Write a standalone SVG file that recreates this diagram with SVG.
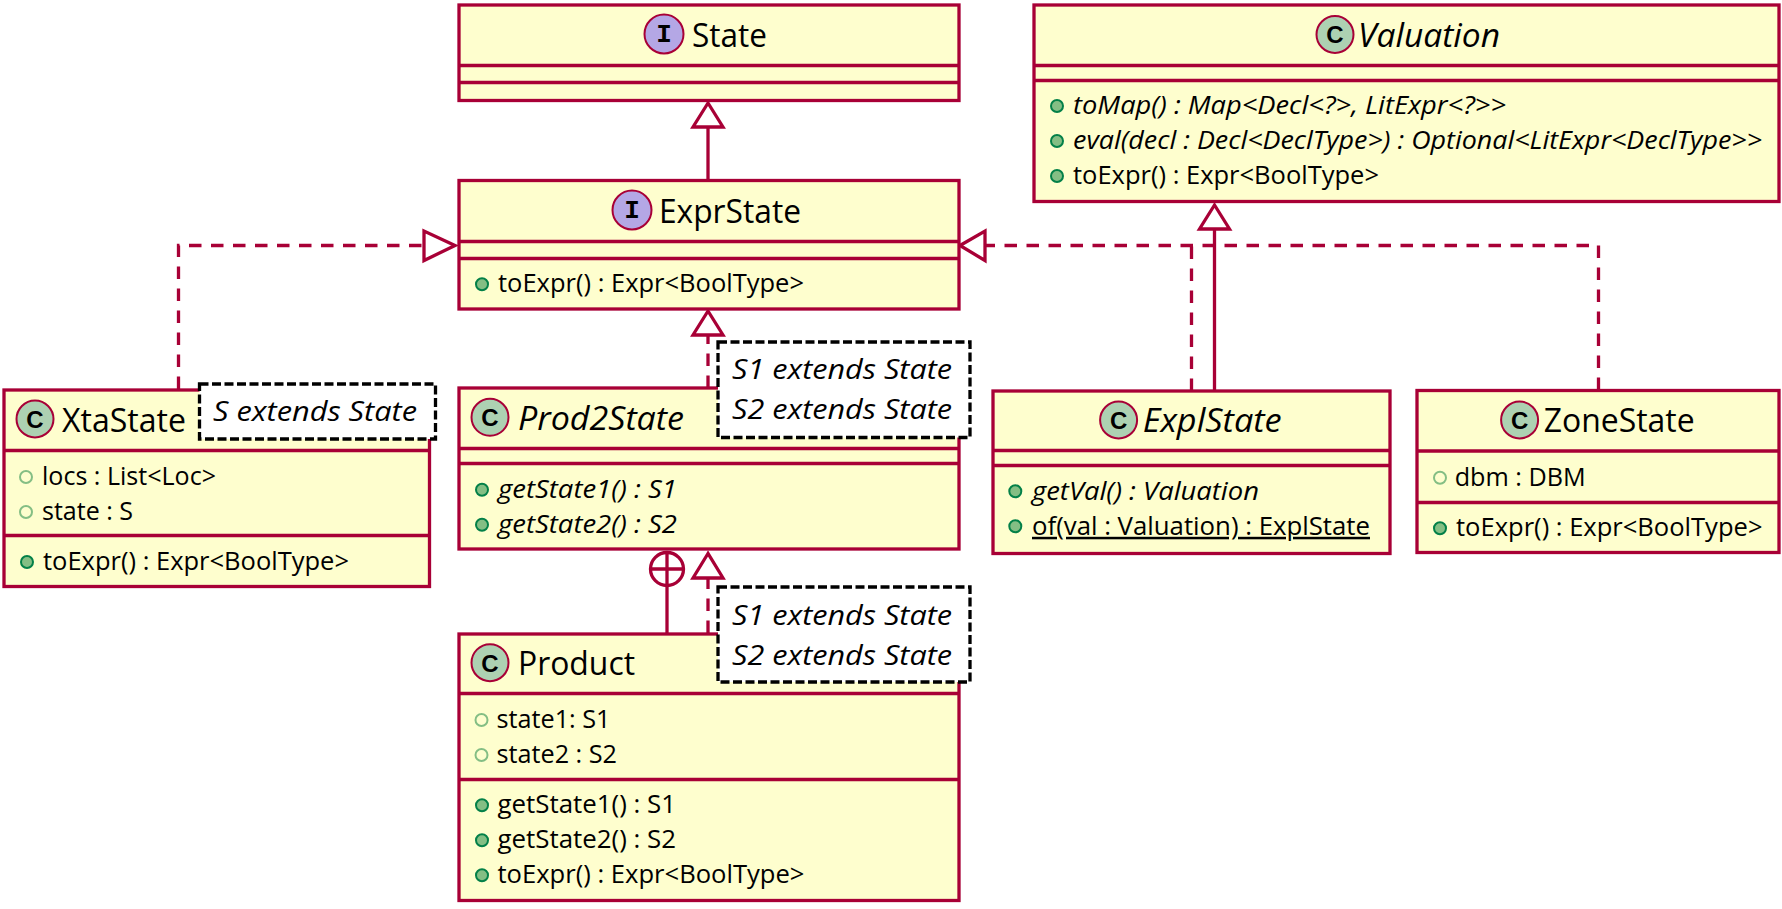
<svg xmlns="http://www.w3.org/2000/svg" width="1782" height="909" viewBox="0 0 1782 909">
<style>
text{font-family:"Open Sans","Noto Sans","Liberation Sans",sans-serif;fill:#000}
.box{fill:#FEFECE;stroke:#A80036;stroke-width:3.300}
.div{stroke:#A80036;stroke-width:3.300;fill:none}
.ic{stroke:#A80036;stroke-width:2}
.c{fill:#ADD1B2}.i{fill:#B4A7E5}
.g{font-family:"Liberation Mono","DejaVu Sans Mono",monospace;font-weight:700;font-size:26px;text-anchor:middle}
.gc{font-family:"Liberation Sans","DejaVu Sans",sans-serif;font-weight:700;font-size:24px;text-anchor:middle}
.t{font-size:32px}.m{font-size:25px}.n{font-size:27px;font-style:italic}.it{font-style:italic}.u{text-decoration:underline;text-decoration-skip-ink:none}
.pub{fill:#84BE84;stroke:#038048;stroke-width:2}
.fld{fill:none;stroke:#84BE84;stroke-width:2}
.note{fill:#fff;stroke:#000;stroke-width:3.300;stroke-dasharray:9 3.500}
.s{fill:none;stroke:#A80036;stroke-width:3.300}
.d{fill:none;stroke:#A80036;stroke-width:3.300;stroke-dasharray:12.500 9.500}
.h{fill:#fff;stroke:#A80036;stroke-width:3.300}
</style>
<g id="connectors">
<path class="s" d="M708 180V127"/>
<polygon class="h" points="708,103 693,127 723,127"/>
<path class="d" d="M178.500 389V245.500H424"/>
<polygon class="h" points="455,245.500 424,231 424,260.500"/>
<path class="d" d="M1598.500 390V245.500H985"/>
<path class="d" d="M1191.500 391V245.500"/>
<polygon class="h" points="960,245.500 985,231 985,260.500"/>
<path class="s" d="M1214.500 391V229"/>
<polygon class="h" points="1214.500,205 1199.500,229 1229.500,229"/>
<path class="d" d="M708 388V335"/>
<polygon class="h" points="708,311 693,335 723,335"/>
<path class="s" d="M667 633V586"/>
<circle class="h" cx="667" cy="569" r="16.500"/>
<path class="s" d="M650.500 569H683.500M667 552.500V585.500"/>
<path class="d" d="M708 633V578"/>
<polygon class="h" points="708,553.500 693,578 723,578"/>
</g>
<g id="State">
<rect class="box" x="459" y="5" width="500" height="95.500"/>
<path class="div" d="M459 65.500H959M459 82.500H959"/>
<circle class="ic i" cx="664" cy="34" r="19.500"/><text class="g" x="664" y="42">I</text>
<text class="t" x="692" y="46.500" textLength="75" lengthAdjust="spacingAndGlyphs">State</text>
</g>
<g id="ExprState">
<rect class="box" x="459" y="180.500" width="500" height="128.500"/>
<path class="div" d="M459 241.500H959M459 258.500H959"/>
<circle class="ic i" cx="632" cy="210" r="19.500"/><text class="g" x="632" y="218">I</text>
<text class="t" x="659" y="222.500" textLength="142" lengthAdjust="spacingAndGlyphs">ExprState</text>
<circle class="pub" cx="482" cy="284.300" r="6"/>
<text class="m" x="498" y="291.500" textLength="306" lengthAdjust="spacingAndGlyphs">toExpr() : Expr&lt;BoolType&gt;</text>
</g>
<g id="Valuation">
<rect class="box" x="1034" y="5" width="745" height="196.500"/>
<path class="div" d="M1034 65.500H1779M1034 80.500H1779"/>
<circle class="ic c" cx="1335" cy="34.500" r="18.500"/><text class="gc" x="1335" y="43">C</text>
<text class="t it" x="1358" y="46.800" textLength="142" lengthAdjust="spacingAndGlyphs">Valuation</text>
<circle class="pub" cx="1057" cy="106" r="6"/>
<text class="m it" x="1073" y="114.300" textLength="433" lengthAdjust="spacingAndGlyphs">toMap() : Map&lt;Decl&lt;?&gt;, LitExpr&lt;?&gt;&gt;</text>
<circle class="pub" cx="1057" cy="141" r="6"/>
<text class="m it" x="1073" y="149.300" textLength="689" lengthAdjust="spacingAndGlyphs">eval(decl : Decl&lt;DeclType&gt;) : Optional&lt;LitExpr&lt;DeclType&gt;&gt;</text>
<circle class="pub" cx="1057" cy="176" r="6"/>
<text class="m" x="1073" y="184.300" textLength="306" lengthAdjust="spacingAndGlyphs">toExpr() : Expr&lt;BoolType&gt;</text>
</g>
<g id="XtaState">
<rect class="box" x="4" y="390" width="425.500" height="196.500"/>
<path class="div" d="M4 450.500H429.500M4 535.500H429.500"/>
<circle class="ic c" cx="35" cy="419" r="18.500"/><text class="gc" x="35" y="427.500">C</text>
<text class="t" x="62" y="431.500" textLength="124" lengthAdjust="spacingAndGlyphs">XtaState</text>
<circle class="fld" cx="26" cy="477" r="6"/>
<text class="m" x="42" y="485" textLength="174" lengthAdjust="spacingAndGlyphs">locs : List&lt;Loc&gt;</text>
<circle class="fld" cx="26" cy="512" r="6"/>
<text class="m" x="42" y="520" textLength="91" lengthAdjust="spacingAndGlyphs">state : S</text>
<circle class="pub" cx="27" cy="562" r="6"/>
<text class="m" x="43" y="570" textLength="306" lengthAdjust="spacingAndGlyphs">toExpr() : Expr&lt;BoolType&gt;</text>
<rect class="note" x="199.500" y="384" width="236" height="55"/>
<text class="n" x="213" y="421" textLength="204" lengthAdjust="spacingAndGlyphs">S extends State</text>
</g>
<g id="Prod2State">
<rect class="box" x="459" y="388" width="500" height="161"/>
<path class="div" d="M459 448.500H959M459 463.500H959"/>
<circle class="ic c" cx="490" cy="417.300" r="18.500"/><text class="gc" x="490" y="426">C</text>
<text class="t it" x="518" y="429.500" textLength="166" lengthAdjust="spacingAndGlyphs">Prod2State</text>
<circle class="pub" cx="482" cy="489.700" r="6"/>
<text class="m it" x="498" y="497.700" textLength="179" lengthAdjust="spacingAndGlyphs">getState1() : S1</text>
<circle class="pub" cx="482" cy="524.700" r="6"/>
<text class="m it" x="498" y="532.700" textLength="179" lengthAdjust="spacingAndGlyphs">getState2() : S2</text>
<rect class="note" x="718" y="342" width="252" height="95.500"/>
<text class="n" x="732" y="379" textLength="220" lengthAdjust="spacingAndGlyphs">S1 extends State</text>
<text class="n" x="732" y="419" textLength="220" lengthAdjust="spacingAndGlyphs">S2 extends State</text>
</g>
<g id="Product">
<rect class="box" x="459" y="634" width="500" height="266.500"/>
<path class="div" d="M459 693.500H959M459 779.500H959"/>
<circle class="ic c" cx="490" cy="662.700" r="18.500"/><text class="gc" x="490" y="671.500">C</text>
<text class="t" x="518" y="675" textLength="117" lengthAdjust="spacingAndGlyphs">Product</text>
<circle class="fld" cx="481.500" cy="720" r="6"/>
<text class="m" x="496.500" y="728.200" textLength="114" lengthAdjust="spacingAndGlyphs">state1: S1</text>
<circle class="fld" cx="481.500" cy="755" r="6"/>
<text class="m" x="496.500" y="763.200" textLength="120.500" lengthAdjust="spacingAndGlyphs">state2 : S2</text>
<circle class="pub" cx="482" cy="805.300" r="6"/>
<text class="m" x="497.500" y="813" textLength="178.500" lengthAdjust="spacingAndGlyphs">getState1() : S1</text>
<circle class="pub" cx="482" cy="840.300" r="6"/>
<text class="m" x="497.500" y="848" textLength="178.500" lengthAdjust="spacingAndGlyphs">getState2() : S2</text>
<circle class="pub" cx="482" cy="875.300" r="6"/>
<text class="m" x="497.500" y="883.300" textLength="307" lengthAdjust="spacingAndGlyphs">toExpr() : Expr&lt;BoolType&gt;</text>
<rect class="note" x="718" y="587" width="252" height="95"/>
<text class="n" x="732" y="625" textLength="220" lengthAdjust="spacingAndGlyphs">S1 extends State</text>
<text class="n" x="732" y="665" textLength="220" lengthAdjust="spacingAndGlyphs">S2 extends State</text>
</g>
<g id="ExplState">
<rect class="box" x="993" y="391" width="397" height="162.500"/>
<path class="div" d="M993 450.500H1390M993 465.500H1390"/>
<circle class="ic c" cx="1118.600" cy="420" r="18.500"/><text class="gc" x="1118.600" y="428.500">C</text>
<text class="t it" x="1142.700" y="432" textLength="139" lengthAdjust="spacingAndGlyphs">ExplState</text>
<circle class="pub" cx="1015.300" cy="491.300" r="6"/>
<text class="m it" x="1032" y="499.800" textLength="227" lengthAdjust="spacingAndGlyphs">getVal() : Valuation</text>
<circle class="pub" cx="1015.300" cy="526.300" r="6"/>
<text class="m u" x="1032" y="534.800" textLength="338" lengthAdjust="spacingAndGlyphs">of(val : Valuation) : ExplState</text>
</g>
<g id="ZoneState">
<rect class="box" x="1417" y="390.500" width="362" height="162"/>
<path class="div" d="M1417 451H1779M1417 502.500H1779"/>
<circle class="ic c" cx="1519.600" cy="420" r="18.500"/><text class="gc" x="1519.600" y="428.500">C</text>
<text class="t" x="1543.700" y="432" textLength="151" lengthAdjust="spacingAndGlyphs">ZoneState</text>
<circle class="fld" cx="1440" cy="477.700" r="6"/>
<text class="m" x="1454.700" y="485.700" textLength="131" lengthAdjust="spacingAndGlyphs">dbm : DBM</text>
<circle class="pub" cx="1440" cy="528.300" r="6"/>
<text class="m" x="1456" y="536.300" textLength="306.500" lengthAdjust="spacingAndGlyphs">toExpr() : Expr&lt;BoolType&gt;</text>
</g>
</svg>
